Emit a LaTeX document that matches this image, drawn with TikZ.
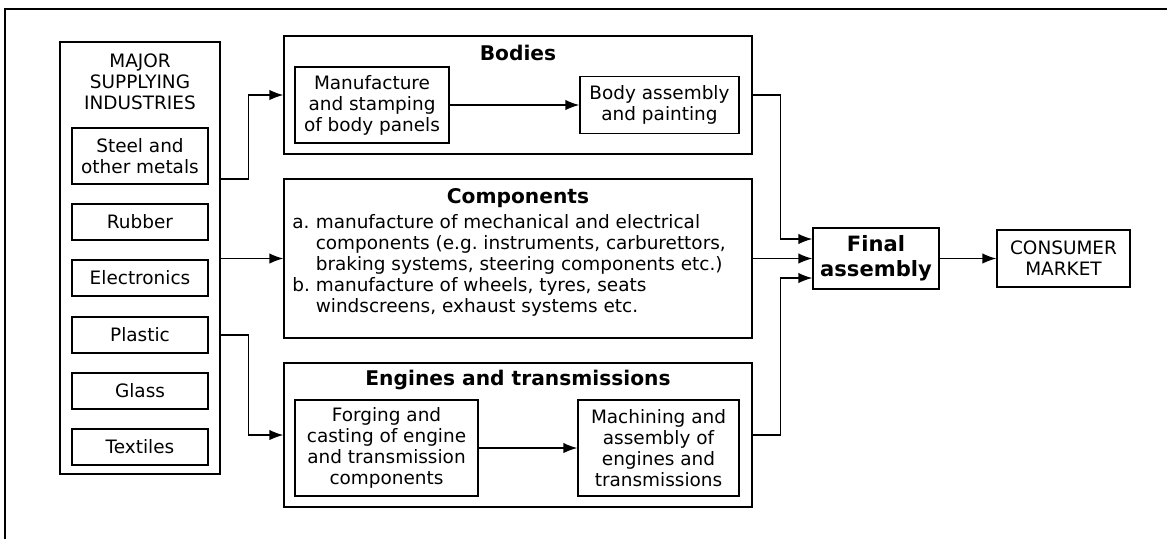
\documentclass[tikz,border=0pt]{standalone}
\usepackage{fontspec}
\setmainfont{DejaVu Sans}
\usetikzlibrary{arrows.meta,calc}

\begin{document}
\begin{tikzpicture}[x=0.02cm,y=-0.02cm,
    every node/.style={font=\fontsize{10.5}{12}\selectfont},
    box/.style={draw,line width=0.8pt,align=center,inner sep=0pt},
    head/.style={font=\bfseries\fontsize{11.5}{13.5}\selectfont},
    arr/.style={-{Latex[length=2.8mm,width=2.1mm]},line width=0.8pt}]
    \useasboundingbox (0,0) rectangle (1167,539);
    % frame (top and left edge only)
    \draw[line width=1.4pt] (5,539) -- (5,9) -- (1167,9);

    % supplying industries (left column)
    \node[box,minimum width=3.2cm,minimum height=8.64cm] (major) at (140,258) {};
    \node[align=center] (majortitle) at (140,82) {MAJOR\\SUPPLYING\\INDUSTRIES};
    \node[box,minimum width=2.72cm,minimum height=1.12cm] (steel) at (140,156) {Steel and\\other metals};
    \node[box,minimum width=2.72cm,minimum height=0.72cm] (rubber) at (140,222) {Rubber};
    \node[box,minimum width=2.72cm,minimum height=0.72cm] (electronics) at (140,278) {Electronics};
    \node[box,minimum width=2.72cm,minimum height=0.72cm] (plastic) at (140,335) {Plastic};
    \node[box,minimum width=2.72cm,minimum height=0.72cm] (glass) at (140,391) {Glass};
    \node[box,minimum width=2.72cm,minimum height=0.72cm] (textiles) at (140,447) {Textiles};

    % bodies
    \node[box,minimum width=9.36cm,minimum height=2.36cm] (bodies) at (518,95) {};
    \node[head] (bodiestitle) at (518,53) {Bodies};
    \node[box,minimum width=3.08cm,minimum height=1.52cm] (stamping) at (372,105) {Manufacture\\and stamping\\of body panels};
    \node[box,minimum width=3.18cm,minimum height=1.14cm] (painting) at (659.5,105) {Body assembly\\and painting};
    \draw[arr] (stamping) -- (painting);

    % components
    \node[box,minimum width=9.36cm,minimum height=3.18cm] (components) at (518,258.5) {};
    \node[head] (comptitle) at (518,198) {Components};
    \node[anchor=west,inner sep=0pt] (complist) at (292,266) {%
      \begin{tabular}{@{}l@{\ }l@{}}
      a. & manufacture of mechanical and electrical\\
         & components (e.g.\ instruments, carburettors,\\
         & braking systems, steering components etc.)\\
      b. & manufacture of wheels, tyres, seats\\
         & windscreens, exhaust systems etc.
      \end{tabular}};

    % engines and transmissions
    \node[box,minimum width=9.36cm,minimum height=2.88cm] (engines) at (518,435) {};
    \node[head] (enginestitle) at (518,380) {Engines and transmissions};
    \node[box,minimum width=3.66cm,minimum height=1.92cm] (forging) at (386.5,448) {Forging and\\casting of engine\\and transmission\\components};
    \node[box,minimum width=3.22cm,minimum height=1.92cm] (machining) at (658.5,448) {Machining and\\assembly of\\engines and\\transmissions};
    \draw[arr] (forging) -- (machining);

    % final assembly and market
    \node[box,head,font=\bfseries\fontsize{12}{14}\selectfont,minimum width=2.52cm,minimum height=1.22cm] (final) at (876,258.5) {Final\\assembly};
    \node[box,minimum width=2.66cm,minimum height=1.14cm] (market) at (1063.5,258.5) {CONSUMER\\MARKET};

    % supplies into the three groups
    \draw[arr] (major.east |- 0,179) -- ++(28,0) |- (bodies.west);
    \draw[arr] (major.east |- components.west) -- (components.west);
    \draw[arr] (major.east |- plastic) -- ++(28,0) |- (engines.west);

    % groups into final assembly
    \draw[arr] (bodies.east) -- ++(28,0) |- ($(final.west)+(0,-19.5)$);
    \draw[arr] (components.east) -- (final.west);
    \draw[arr] (engines.east) -- ++(28,0) |- ($(final.west)+(0,19.5)$);
    \draw[arr] (final) -- (market);
\end{tikzpicture}
\end{document}
